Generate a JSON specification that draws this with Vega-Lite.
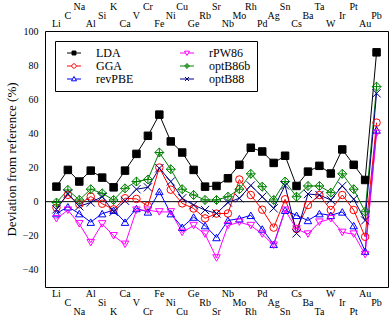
{
  "$schema": "https://vega.github.io/schema/vega-lite/v6.json",
  "autosize": {"type": "none"},
  "width": 343,
  "height": 256,
  "padding": {"left": 45, "top": 31, "right": 2, "bottom": 32},
  "background": "white",
  "config": {
    "font": "Liberation Serif",
    "view": {"stroke": "black", "strokeWidth": 1},
    "axis": {"grid": false, "domain": false, "tickColor": "black", "labelColor": "black", "labelFont": "Liberation Serif", "titleFont": "Liberation Serif", "titleColor": "black"},
    "text": {"font": "Liberation Serif", "fontSize": 10, "color": "black", "baseline": "middle", "align": "center"},
    "legend": {"columnPadding": 40, "labelOffset": 16, "symbolOffset": 7, "rowPadding": 1, "padding": 6, "labelFontSize": 12, "labelFont": "Liberation Serif", "labelColor": "black"}
  },
  "datasets": {
    "d": [
      {"el": "Li", "LDA": 8.8, "GGA": -3.5, "revPBE": -7, "rPW86": -10, "optB86b": -0.5, "optB88": -4.5},
      {"el": "C", "LDA": 18.6, "GGA": 4, "revPBE": -3, "rPW86": -5, "optB86b": 6.9, "optB88": 4.7},
      {"el": "Na", "LDA": 11.8, "GGA": -1.5, "revPBE": -7, "rPW86": -13, "optB86b": 1, "optB88": -2.7},
      {"el": "Al", "LDA": 18.2, "GGA": 3, "revPBE": -12, "rPW86": -24, "optB86b": 7.3, "optB88": -0.5},
      {"el": "Si", "LDA": 14.1, "GGA": -1.2, "revPBE": -7, "rPW86": -13, "optB86b": 4.9, "optB88": 2.9},
      {"el": "K", "LDA": 8.4, "GGA": -4.5, "revPBE": -5, "rPW86": -20, "optB86b": 1, "optB88": -5.9},
      {"el": "Ca", "LDA": 18.2, "GGA": 2, "revPBE": -12, "rPW86": -25, "optB86b": 7.8, "optB88": 0.5},
      {"el": "V", "LDA": 28, "GGA": 1.6, "revPBE": -4, "rPW86": -5, "optB86b": 11.8, "optB88": 7.3},
      {"el": "Cr", "LDA": 38.6, "GGA": -2.5, "revPBE": -6, "rPW86": -5, "optB86b": 13, "optB88": 8.4},
      {"el": "Fe", "LDA": 51, "GGA": 20, "revPBE": 6, "rPW86": -6, "optB86b": 28.8, "optB88": 19.6},
      {"el": "Ni", "LDA": 35.3, "GGA": 7, "revPBE": -7, "rPW86": -6, "optB86b": 19, "optB88": 11.8},
      {"el": "Cu", "LDA": 28.8, "GGA": -1, "revPBE": -15, "rPW86": -18, "optB86b": 7.3, "optB88": 2},
      {"el": "Ge", "LDA": 18.6, "GGA": -4, "revPBE": -9, "rPW86": -14, "optB86b": 3.9, "optB88": -2},
      {"el": "Rb", "LDA": 8.8, "GGA": -9.8, "revPBE": -14, "rPW86": -19, "optB86b": 1, "optB88": -4.9},
      {"el": "Sr", "LDA": 9.2, "GGA": -7, "revPBE": -21, "rPW86": -33, "optB86b": 1, "optB88": -6.9},
      {"el": "Nb", "LDA": 13.7, "GGA": -6.9, "revPBE": -11, "rPW86": -14, "optB86b": 2.9, "optB88": -0.5},
      {"el": "Mo", "LDA": 21.6, "GGA": 13, "revPBE": -10, "rPW86": -12, "optB86b": 7.3, "optB88": 2},
      {"el": "Rh", "LDA": 31.6, "GGA": 3.9, "revPBE": -8, "rPW86": -14, "optB86b": 16.3, "optB88": 9.5},
      {"el": "Pd", "LDA": 29.4, "GGA": -4.7, "revPBE": -16, "rPW86": -19, "optB86b": 8.8, "optB88": 2.9},
      {"el": "Ag", "LDA": 22.7, "GGA": -15.2, "revPBE": -25, "rPW86": -25.5, "optB86b": 1, "optB88": -3.9},
      {"el": "Sn", "LDA": 26.9, "GGA": 1.4, "revPBE": -5, "rPW86": -5, "optB86b": 11.8, "optB88": 9.5},
      {"el": "Cs", "LDA": 9.2, "GGA": -16, "revPBE": -8, "rPW86": -16, "optB86b": 2.9, "optB88": -18.6},
      {"el": "Ba", "LDA": 17.6, "GGA": -2, "revPBE": -11, "rPW86": -19, "optB86b": 9.2, "optB88": 4.5},
      {"el": "Ta", "LDA": 21, "GGA": 3.9, "revPBE": -7, "rPW86": -12, "optB86b": 9.2, "optB88": 3.9},
      {"el": "W", "LDA": 16.5, "GGA": -4.9, "revPBE": -8, "rPW86": -10, "optB86b": 5.3, "optB88": 1},
      {"el": "Ir", "LDA": 30.6, "GGA": 3.9, "revPBE": -6, "rPW86": -18, "optB86b": 16.3, "optB88": 9.2},
      {"el": "Pt", "LDA": 21.6, "GGA": -4.9, "revPBE": -14, "rPW86": -19, "optB86b": 7.3, "optB88": 1.5},
      {"el": "Au", "LDA": 12.7, "GGA": -20.6, "revPBE": -29, "rPW86": -31, "optB86b": -5.9, "optB88": -11},
      {"el": "Pb", "LDA": 87.5, "GGA": 46.3, "revPBE": 42, "rPW86": 40, "optB86b": 67.4, "optB88": 63.5}
    ]
  },
  "data": {"name": "d"},
  "layer": [
    {
      "data": {"values": [{}]},
      "mark": {"type": "rule", "color": "black", "strokeWidth": 1},
      "encoding": {"y": {"datum": 0, "type": "quantitative", "scale": {"domain": [-50, 100], "nice": false, "zero": false}, "axis": null}}
    },
    {
      "transform": [{"fold": ["LDA", "GGA", "revPBE", "rPW86", "optB86b", "optB88"], "as": ["method", "value"]}],
      "mark": {"type": "line", "strokeWidth": 1},
      "encoding": {
        "x": {
          "field": "el", "type": "ordinal",
          "scale": {"type": "point", "padding": 1, "domain": ["Li","C","Na","Al","Si","K","Ca","V","Cr","Fe","Ni","Cu","Ge","Rb","Sr","Nb","Mo","Rh","Pd","Ag","Sn","Cs","Ba","Ta","W","Ir","Pt","Au","Pb"]},
          "axis": {
            "orient": "bottom", "title": null, "labels": false, "tickSize": 0,
            "encode": {"ticks": {"update": {"y2": {"value": -5}}}}
          }
        },
        "y": {
          "field": "value", "type": "quantitative",
          "scale": {"domain": [-50, 100], "nice": false, "zero": false},
          "axis": {
            "orient": "left", "title": "Deviation from reference (%)", "titleFontSize": 13, "titleFontWeight": "normal", "titlePadding": 4,
            "values": [-40,-30,-20,-10,0,10,20,30,40,50,60,70,80,90,100],
            "labelExpr": "datum.value % 20 === 0 ? datum.label : ''",
            "labelFontSize": 10, "labelPadding": 7, "tickSize": 0,
            "encode": {"ticks": {"update": {"x2": {"signal": "datum.value % 20 === 0 ? 5 : 3"}}}}
          }
        },
        "color": {
          "field": "method", "type": "nominal",
          "scale": {"domain": ["LDA","GGA","revPBE","rPW86","optB86b","optB88"], "range": ["#000000","#ff0000","#0000ff","#ff00ff","#008000","#000080"]},
          "legend": null
        }
      }
    },
    {
      "transform": [{"fold": ["LDA", "GGA", "revPBE", "rPW86", "optB86b", "optB88"], "as": ["method", "value"]}],
      "mark": {"type": "point", "opacity": 1, "strokeWidth": 1, "size": 56},
      "encoding": {
        "x": {
          "field": "el", "type": "ordinal",
          "axis": {
            "orient": "top", "title": null, "labels": false, "tickSize": 0,
            "encode": {"ticks": {"update": {"y2": {"value": 5}}}}
          }
        },
        "y": {
          "field": "value", "type": "quantitative",
          "axis": {
            "orient": "right", "title": null, "labels": false, "tickSize": 0,
            "values": [-40,-30,-20,-10,0,10,20,30,40,50,60,70,80,90,100],
            "encode": {"ticks": {"update": {"x2": {"signal": "datum.value % 20 === 0 ? -5 : -3"}}}}
          }
        },
        "shape": {
          "field": "method", "type": "nominal",
          "scale": {"domain": ["LDA","GGA","revPBE","rPW86","optB86b","optB88"], "range": ["square","circle","triangle-up","triangle-down","M0,-1.2L1.2,0L0,1.2L-1.2,0ZM0,-1.2L0,1.2M-1.2,0L1.2,0","M-1.1,-1.1L1.1,1.1M-1.1,1.1L1.1,-1.1"]},
          "legend": null
        },
        "stroke": {
          "field": "method", "type": "nominal",
          "scale": {"domain": ["LDA","GGA","revPBE","rPW86","optB86b","optB88"], "range": ["#000000","#ff0000","#0000ff","#ff00ff","#008000","#000080"]},
          "legend": null
        },
        "fill": {
          "field": "method", "type": "nominal",
          "scale": {"domain": ["LDA","GGA","revPBE","rPW86","optB86b","optB88"], "range": ["#000000","transparent","transparent","transparent","transparent","transparent"]},
          "legend": null
        }
      }
    },
    {
      "transform": [{"filter": {"field": "el", "oneOf": ["Li","Al","Ca","Fe","Ge","Nb","Pd","Cs","W","Au"]}}],
      "mark": {"type": "text", "dy": 7},
      "encoding": {"x": {"field": "el", "type": "ordinal", "axis": null}, "y": {"datum": -50, "type": "quantitative", "axis": null}, "text": {"field": "el"}}
    },
    {
      "transform": [{"filter": {"field": "el", "oneOf": ["C","Si","V","Ni","Rb","Mo","Ag","Ba","Ir","Pb"]}}],
      "mark": {"type": "text", "dy": 16},
      "encoding": {"x": {"field": "el", "type": "ordinal", "axis": null}, "y": {"datum": -50, "type": "quantitative", "axis": null}, "text": {"field": "el"}}
    },
    {
      "transform": [{"filter": {"field": "el", "oneOf": ["Na","K","Cr","Cu","Sr","Rh","Sn","Ta","Pt"]}}],
      "mark": {"type": "text", "dy": 25},
      "encoding": {"x": {"field": "el", "type": "ordinal", "axis": null}, "y": {"datum": -50, "type": "quantitative", "axis": null}, "text": {"field": "el"}}
    },
    {
      "transform": [{"filter": {"field": "el", "oneOf": ["Li","Al","Ca","Fe","Ge","Nb","Pd","Cs","W","Au"]}}],
      "mark": {"type": "text", "dy": -7},
      "encoding": {"x": {"field": "el", "type": "ordinal", "axis": null}, "y": {"datum": 100, "type": "quantitative", "axis": null}, "text": {"field": "el"}}
    },
    {
      "transform": [{"filter": {"field": "el", "oneOf": ["C","Si","V","Ni","Rb","Mo","Ag","Ba","Ir","Pb"]}}],
      "mark": {"type": "text", "dy": -15.5},
      "encoding": {"x": {"field": "el", "type": "ordinal", "axis": null}, "y": {"datum": 100, "type": "quantitative", "axis": null}, "text": {"field": "el"}}
    },
    {
      "transform": [{"filter": {"field": "el", "oneOf": ["Na","K","Cr","Cu","Sr","Rh","Sn","Ta","Pt"]}}],
      "mark": {"type": "text", "dy": -24},
      "encoding": {"x": {"field": "el", "type": "ordinal", "axis": null}, "y": {"datum": 100, "type": "quantitative", "axis": null}, "text": {"field": "el"}}
    },
    {
      "transform": [{"fold": ["LDA", "GGA", "revPBE", "rPW86", "optB86b", "optB88"], "as": ["method", "value"]}, {"filter": "false"}],
      "mark": {"type": "point", "opacity": 1, "strokeWidth": 1, "size": 49},
      "encoding": {
        "shape": {
          "field": "method", "type": "nominal",
          "scale": {"domain": ["LDA","GGA","revPBE","rPW86","optB86b","optB88"], "range": [
            "M-2,0L2,0M-0.56,-0.56L0.56,-0.56L0.56,0.56L-0.56,0.56Z",
            "M-2,0L-0.63,0M0.63,0L2,0M-0.63,0A0.63,0.63,0,1,0,0.63,0A0.63,0.63,0,1,0,-0.63,0Z",
            "M-2,0L-0.42,0M0.42,0L2,0M0,-0.72L0.72,0.52L-0.72,0.52Z",
            "M-2,0L-0.42,0M0.42,0L2,0M0,0.72L0.72,-0.52L-0.72,-0.52Z",
            "M-2,0L2,0M0,-0.68L0.68,0L0,0.68L-0.68,0ZM0,-0.68L0,0.68",
            "M-2,0L2,0M-0.56,-0.56L0.56,0.56M-0.56,0.56L0.56,-0.56"
          ]},
          "legend": {"title": null, "orient": "top-left", "offset": 10, "columns": 2, "strokeColor": "black", "symbolSize": 49, "symbolStrokeWidth": 1}
        },
        "stroke": {
          "field": "method", "type": "nominal",
          "scale": {"domain": ["LDA","GGA","revPBE","rPW86","optB86b","optB88"], "range": ["#000000","#ff0000","#0000ff","#ff00ff","#008000","#000080"]},
          "legend": {"title": null, "orient": "top-left", "offset": 10, "columns": 2, "strokeColor": "black", "symbolSize": 49, "symbolStrokeWidth": 1}
        },
        "fill": {
          "field": "method", "type": "nominal",
          "scale": {"domain": ["LDA","GGA","revPBE","rPW86","optB86b","optB88"], "range": ["#000000","#ffffff","#ffffff","#ffffff","#ffffff","#ffffff"]},
          "legend": {"title": null, "orient": "top-left", "offset": 10, "columns": 2, "strokeColor": "black", "symbolSize": 49, "symbolStrokeWidth": 1}
        }
      }
    }
  ],
  "resolve": {
    "scale": {"color": "independent", "shape": "independent", "stroke": "independent", "fill": "independent"},
    "axis": {"x": "independent", "y": "independent"}
  }
}
